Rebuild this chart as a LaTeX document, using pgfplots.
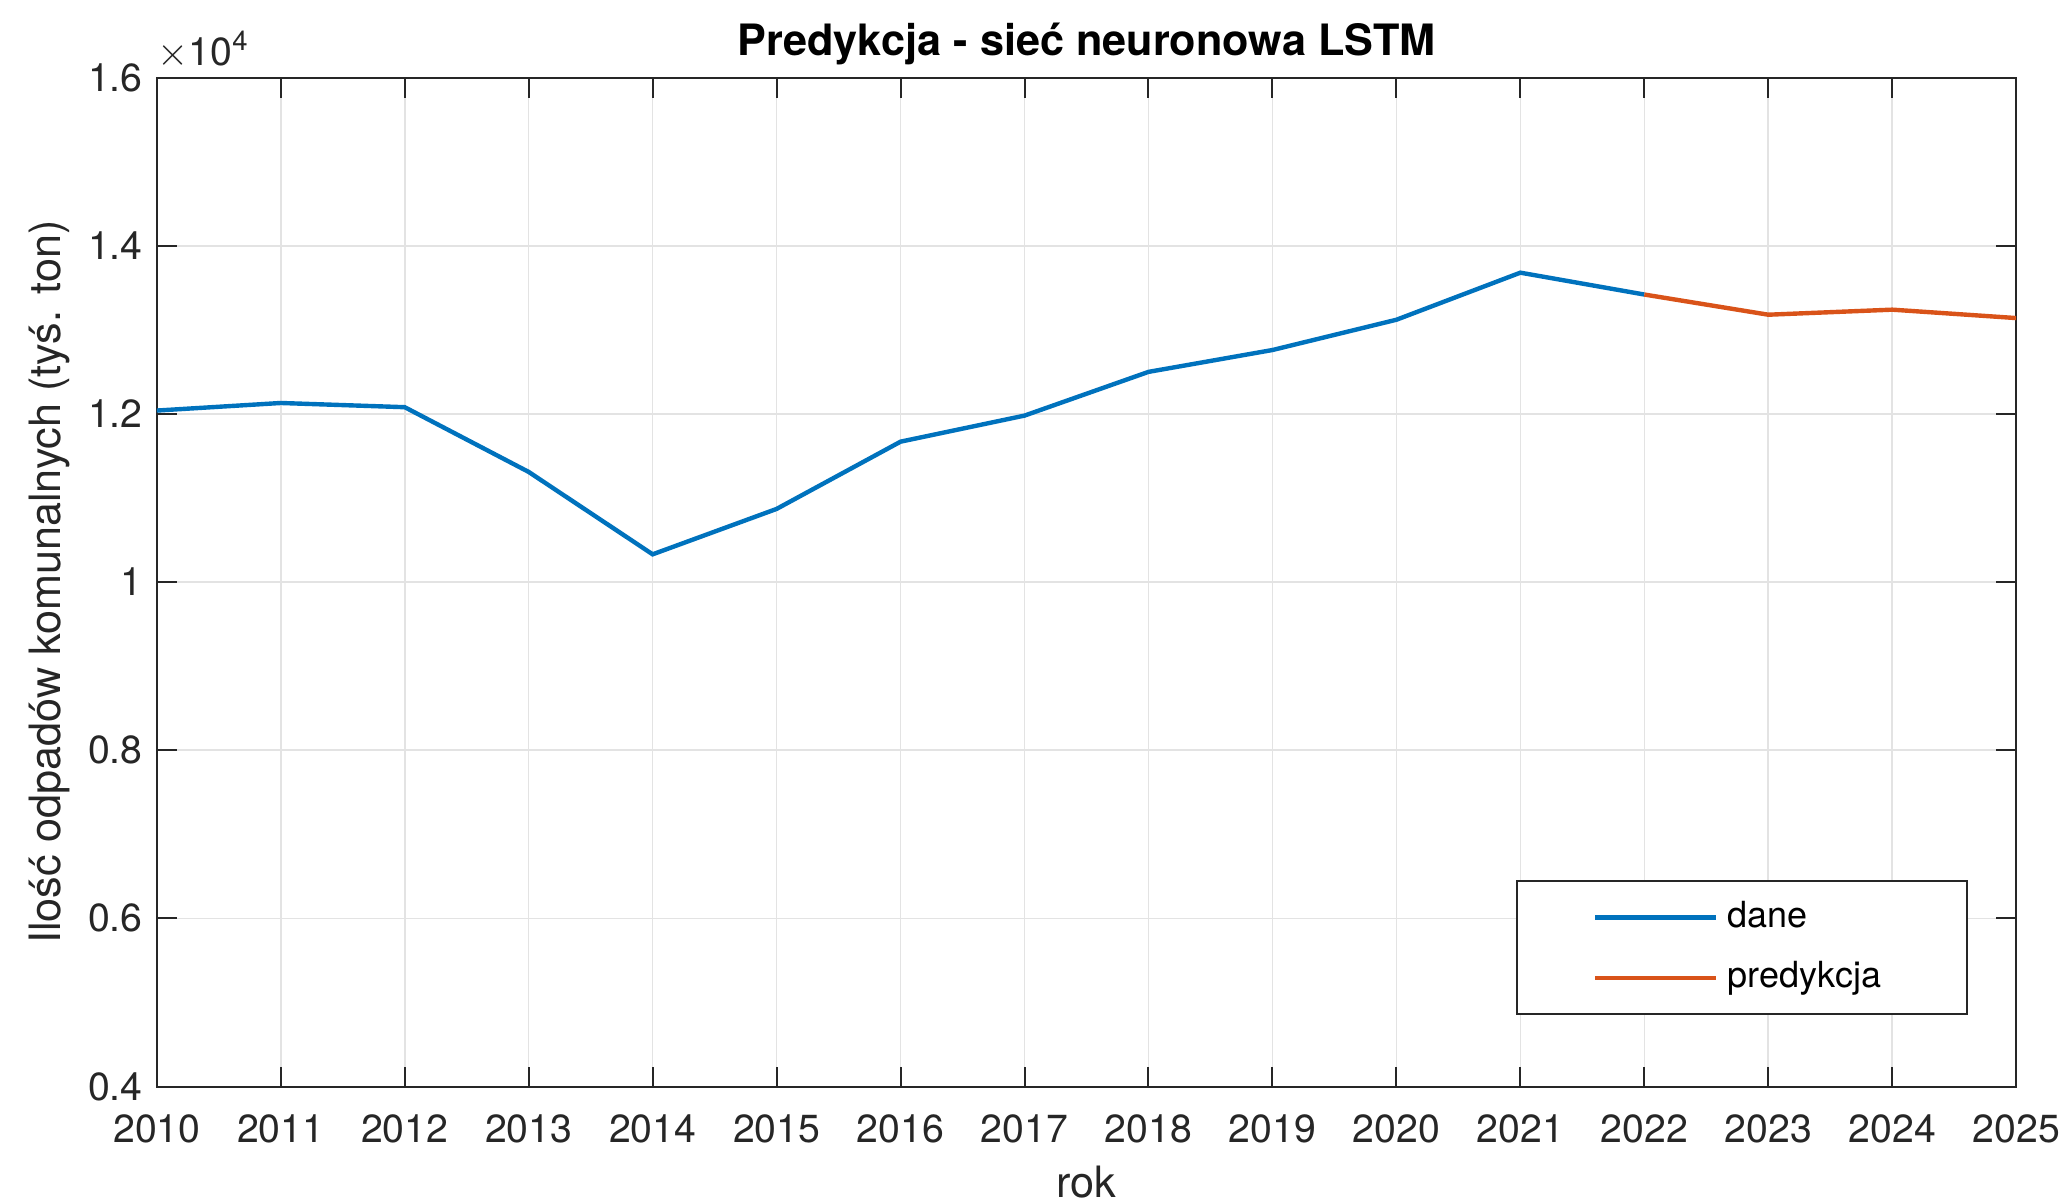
\documentclass[border=0pt]{standalone}
\usepackage{pgfplots}
\pgfplotsset{compat=1.18}
\usepackage{fontspec}
\setmainfont{TeX Gyre Heros}
\definecolor{mblue}{rgb}{0,0.447,0.741}
\definecolor{morange}{rgb}{0.85,0.325,0.098}
\definecolor{axgray}{rgb}{0.15,0.15,0.15}
\begin{document}
\begin{tikzpicture}
\useasboundingbox (-39.2pt,-28.9pt) rectangle (477pt,271.6pt);
\begin{axis}[
  name=ax,
  scale only axis,
  width=464.8pt, height=252.2pt,
  xmin=2010, xmax=2025, ymin=4000, ymax=16000,
  xtick={2010,2011,...,2025},
  ytick={4000,6000,8000,10000,12000,14000,16000},
  yticklabels={0.4,0.6,0.8,1,1.2,1.4,1.6},
  scaled y ticks=false, scaled x ticks=false,
  /pgf/number format/1000 sep={},
  /pgf/number format/assume math mode=true,
  tick align=inside,
  xtick pos=both, ytick pos=both,
  major tick length=5pt,
  every tick/.style={axgray, line width=0.5pt},
  axis line style={axgray, line width=0.5pt},
  grid=major,
  major grid style={gray!22, line width=0.4pt},
  tick label style={font=\fontsize{9.8}{11}\selectfont, text=axgray},
  xticklabel style={yshift=-3.6pt},
  yticklabel style={xshift=0pt},
  label style={font=\fontsize{10.8}{12}\selectfont, text=axgray},
  xlabel={rok},
  ylabel={Ilość odpadów komunalnych (tyś. ton)},
  xlabel style={at={(rel axis cs:0.5,0)}, anchor=center, yshift=-24pt},
  ylabel style={at={(axis description cs:-0.058,0.5)}, anchor=center},
  every axis title shift=0pt,
  title={\bfseries Predykcja - sieć neuronowa LSTM},
  title style={font=\fontsize{10.8}{12}\selectfont, at={(rel axis cs:0.5,1)}, anchor=center, yshift=8.5pt},
  legend style={at={(rel axis cs:0.974,0.071)}, anchor=south east,
    draw=axgray, line width=0.5pt, font=\fontsize{9}{10}\selectfont,
    inner xsep=19pt, inner ysep=3pt, row sep=3pt,
    nodes={inner xsep=2.4pt}},
  legend cell align=left,
  legend image code/.code={\draw[#1, line width=1.1pt] (0cm,0cm) -- (1.06cm,0cm);},
]
\addplot[mblue, line width=1.1pt] coordinates {
(2010,12040) (2011,12130) (2012,12080) (2013,11310) (2014,10330)
(2015,10870) (2016,11670) (2017,11980) (2018,12500) (2019,12760)
(2020,13120) (2021,13680) (2022,13420)};
\addlegendentry{dane}
\addplot[morange, line width=1.1pt] coordinates {
(2022,13420) (2023,13180) (2024,13240) (2025,13140)};
\addlegendentry{predykcja}
\end{axis}
\node[anchor=south west, inner sep=0pt, font=\fontsize{9.8}{11}\selectfont, text=axgray] at ([yshift=2pt]ax.north west) {$\times$10\textsuperscript{4}};
\end{tikzpicture}
\end{document}
